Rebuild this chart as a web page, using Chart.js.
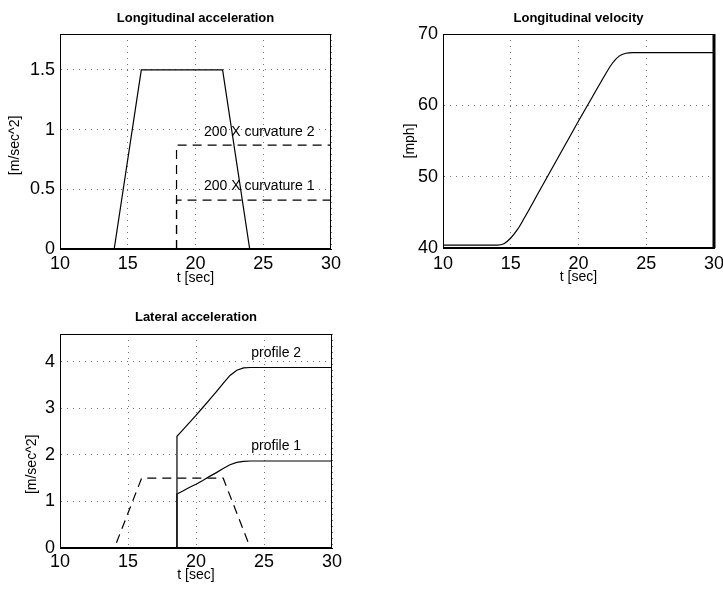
<!DOCTYPE html>
<html><head><meta charset="utf-8">
<script src="https://cdn.jsdelivr.net/npm/chart.js@4.4.1/dist/chart.umd.min.js"></script>
<style>
html,body{margin:0;padding:0;background:#fff;overflow:hidden;width:723px;height:593px;}
canvas{position:absolute;}
</style></head><body>
<canvas id="c1" width="360" height="300" style="left:0;top:0"></canvas>
<canvas id="c2" width="363" height="300" style="left:360px;top:0"></canvas>
<canvas id="c3" width="360" height="293" style="left:0;top:300px"></canvas>
<script>
// ---------- data ----------
const accelTime   = [10, 14, 16, 22, 24, 30];
const accelValues = [0, 0, 1.5, 1.5, 0, 0];

const curvTime   = [18.6, 18.6, 30];
const curvature1 = [0, 0.41, 0.41];
const curvature2 = [0, 0.87, 0.87];

const velTime  = [10, 11, 12, 13, 14, 14.5, 15, 15.5, 16, 17, 18, 19, 20, 21, 22, 22.5, 23, 23.5, 24, 25, 26, 27, 28, 29, 30];
const velocity = [40.4, 40.4, 40.4, 40.4, 40.4, 40.6, 41.4, 42.6, 44.2, 47.6, 51.0, 54.4, 57.8, 61.1, 64.4, 65.9, 66.9, 67.3, 67.4, 67.4, 67.4, 67.4, 67.4, 67.4, 67.4];

const latTime  = [10, 18.6, 18.6, 19, 19.5, 20, 20.5, 21, 21.5, 22, 22.5, 23, 23.5, 24, 30];
const profile1 = [0, 0, 1.16, 1.22, 1.30, 1.37, 1.45, 1.54, 1.62, 1.71, 1.79, 1.84, 1.86, 1.87, 1.87];
const profile2 = [0, 0, 2.40, 2.53, 2.69, 2.85, 3.02, 3.19, 3.36, 3.54, 3.71, 3.82, 3.87, 3.88, 3.88];

const xTickStep = 5;
const titles = ['Longitudinal acceleration', 'Longitudinal velocity', 'Lateral acceleration'];
const yLabels = ['[m/sec^2]', '[mph]', '[m/sec^2]'];
const xLabel = 't [sec]';

const annotations1 = [
  {text: '200 X curvature 2', x: 24.7, y: 0.98},
  {text: '200 X curvature 1', x: 24.7, y: 0.53}
];
const annotations3 = [
  {text: 'profile 2', x: 25.9, y: 4.19},
  {text: 'profile 1', x: 25.9, y: 2.18}
];

// ---------- helpers ----------
const FAMILY = '"Liberation Sans", Arial, Helvetica, sans-serif';
Chart.defaults.font.family = FAMILY;
Chart.defaults.color = '#000';

function pts(xs, ys) { return xs.map((x, i) => ({x: x, y: ys[i]})); }
function fmt(v) { return String(+v.toFixed(3)); }

const framePlugin = {
  id: 'frame',
  afterDatasetsDraw(chart, args, opts) {
    const {ctx, chartArea: a} = chart;
    ctx.save();
    ctx.strokeStyle = '#000';
    ctx.lineWidth = 1;
    ctx.strokeRect(Math.round(a.left) + 0.5, Math.round(a.top) + 0.5,
                   Math.round(a.right - a.left) - 1, Math.round(a.bottom - a.top) - 1);
    if (opts.thickRight) {
      ctx.lineWidth = opts.thickRight;
      ctx.beginPath();
      ctx.moveTo(a.right - 0.5 + opts.thickRight / 2 - 1, a.top);
      ctx.lineTo(a.right - 0.5 + opts.thickRight / 2 - 1, a.bottom);
      ctx.stroke();
    }
    (opts.labels || []).forEach(l => {
      ctx.font = '14px ' + FAMILY;
      ctx.fillStyle = '#000';
      ctx.textAlign = 'center';
      ctx.textBaseline = 'middle';
      ctx.fillText(l.text, chart.scales.x.getPixelForValue(l.x), chart.scales.y.getPixelForValue(l.y));
    });
    ctx.restore();
  }
};

function makeChart(id, o) {
  return new Chart(document.getElementById(id), {
    type: 'line',
    data: {datasets: o.datasets.map(d => Object.assign({
      borderColor: '#000', borderWidth: 1.2, pointRadius: 0, fill: false, tension: 0
    }, d))},
    options: {
      responsive: false,
      animation: false,
      layout: {padding: {left: 0, top: 0, right: o.padRight, bottom: 0}},
      plugins: {
        legend: {display: false},
        tooltip: {enabled: false},
        title: {display: true, fullSize: false, text: o.title, font: {size: 13, weight: 'bold'},
                padding: {top: o.titleTop, bottom: o.titleBottom}},
        frame: {labels: o.labels || [], thickRight: o.thickRight || 0}
      },
      scales: {
        x: {
          type: 'linear', min: 10, max: 30,
          ticks: {stepSize: xTickStep, font: {size: 18}, padding: o.xTickPad, maxRotation: 0, callback: fmt},
          grid: {color: '#777', lineWidth: 1, drawTicks: false},
          border: {display: true, color: '#000', width: 1, dash: [1, 5]},
          title: {display: true, text: xLabel, font: {size: 14}, padding: {top: 0, bottom: o.xTitlePad}},
          afterFit(s) { s.height = o.xHeight; s.paddingLeft = 0; s.paddingRight = 0; }
        },
        y: {
          type: 'linear', min: o.yMin, max: o.yMax,
          ticks: {stepSize: o.yStep, font: {size: 18}, padding: 5, includeBounds: false, callback: fmt},
          grid: {color: '#777', lineWidth: 1, drawTicks: false},
          border: {display: true, color: '#000', width: 1, dash: [1, 5]},
          title: {display: true, text: o.yLabel + (o.yLabelTail || ''), font: {size: 14}, padding: {top: o.yTitlePad, bottom: 0}},
          afterFit(s) { s.width = o.yWidth; s.paddingTop = 0; s.paddingBottom = 0; }
        }
      }
    },
    plugins: [framePlugin]
  });
}

// ---------- chart 1 ----------
makeChart('c1', {
  title: titles[0], titleTop: 10.7, titleBottom: 7.7,
  padRight: 29, xHeight: 51, yWidth: 60, xTickPad: 4.5, xTitlePad: 13.6, yTitlePad: 7.1,
  yMin: 0, yMax: 1.8, yStep: 0.5, yLabel: yLabels[0], yLabelTail: '  ',
  labels: annotations1,
  datasets: [
    {data: pts(accelTime, accelValues)},
    {data: pts(curvTime, curvature2), borderDash: [9, 6]},
    {data: pts(curvTime, curvature1), borderDash: [9, 6]}
  ]
});

// ---------- chart 2 ----------
makeChart('c2', {
  title: titles[1], titleTop: 10.7, titleBottom: 7.7,
  padRight: 9, xHeight: 52, yWidth: 83, xTickPad: 5, xTitlePad: 14, yTitlePad: 41.6,
  yMin: 40, yMax: 70, yStep: 10, yLabel: yLabels[1],
  thickRight: 3,
  datasets: [
    {data: pts(velTime, velocity), cubicInterpolationMode: 'monotone'}
  ]
});

// ---------- chart 3 ----------
makeChart('c3', {
  title: titles[2], titleTop: 9.2, titleBottom: 9.2,
  padRight: 28, xHeight: 45, yWidth: 60, xTickPad: 3, xTitlePad: 9.6, yTitlePad: 23.6,
  yMin: 0, yMax: 4.6, yStep: 1, yLabel: yLabels[2], yLabelTail: '            ',
  labels: annotations3,
  datasets: [
    {data: pts(accelTime, accelValues), borderDash: [9, 6]},
    {data: pts(latTime, profile2)},
    {data: pts(latTime, profile1)}
  ]
});
</script>
</body></html>
